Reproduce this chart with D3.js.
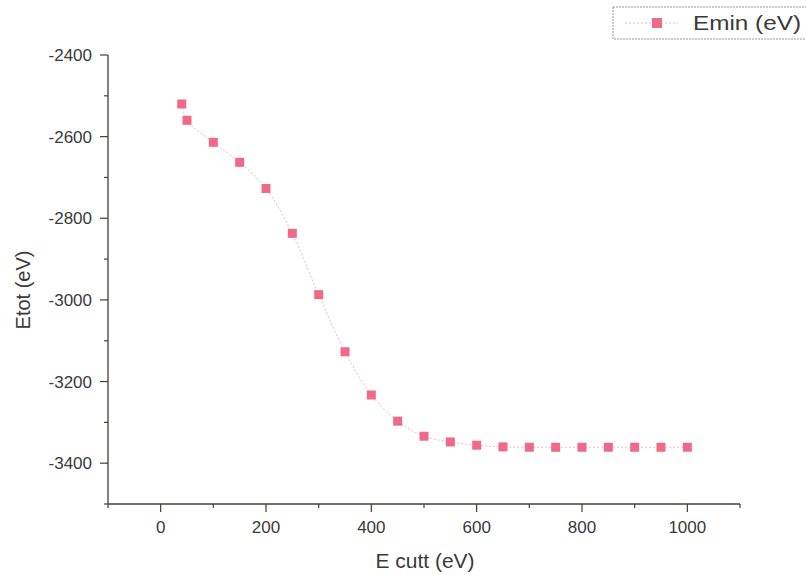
<!DOCTYPE html>
<html lang="en">
<head>
<meta charset="UTF-8">
<title>Etot vs E cutt</title>
<script src="https://cdn.jsdelivr.net/npm/d3@7"></script>
<style>
    body { margin: 0; background: #fff; }
    text { font-family: "Liberation Sans", Arial, sans-serif; fill: #3a3a3a; }
</style>
</head>
<body>
<svg id="chart" width="806" height="575"></svg>
<script>
    // data
    var ecut = [40, 50, 100, 150, 200, 250, 300, 350, 400, 450, 500, 550, 600, 650, 700, 750, 800, 850, 900, 950, 1000];
    var etot = [-2520, -2560, -2614, -2663, -2727, -2837, -2987, -3127, -3233, -3297, -3334, -3348, -3356, -3360, -3361, -3361, -3361, -3361, -3361, -3361, -3361];
    var xTicks = [0, 200, 400, 600, 800, 1000];
    var yTicks = [-2400, -2600, -2800, -3000, -3200, -3400];
    var seriesName = "Emin (eV)";

    var svg = d3.select("#chart");
    var plotLeft = 108, plotRight = 740, plotTop = 55, plotBottom = 504;
    var axisColor = "#4a3a3a";
    var markColor = "#f06a88";

    var x = d3.scaleLinear().domain([-100, 1100]).range([plotLeft, plotRight]);
    var y = d3.scaleLinear().domain([-3500, -2400]).range([plotBottom, plotTop]);

    // x axis
    var gx = svg.append("g").attr("transform", "translate(0," + plotBottom + ")");
    gx.append("line").attr("x1", plotLeft).attr("x2", plotRight).attr("stroke", axisColor).attr("stroke-width", 1.3);
    d3.range(-100, 1101, 100).forEach(function (v) {
        var major = v % 200 === 0;
        gx.append("line").attr("x1", x(v)).attr("x2", x(v))
            .attr("y1", 0).attr("y2", major ? 8 : 4)
            .attr("stroke", axisColor).attr("stroke-width", 1.2);
    });
    xTicks.forEach(function (v) {
        gx.append("text").attr("x", x(v)).attr("y", 29).attr("text-anchor", "middle")
            .attr("font-size", 17).text(v);
    });

    // y axis
    var gy = svg.append("g").attr("transform", "translate(" + plotLeft + ",0)");
    gy.append("line").attr("y1", plotTop).attr("y2", plotBottom).attr("stroke", axisColor).attr("stroke-width", 1.3);
    d3.range(-3500, -2399, 100).forEach(function (v) {
        var major = v % 200 === 0;
        gy.append("line").attr("y1", y(v)).attr("y2", y(v))
            .attr("x1", 0).attr("x2", major ? -8 : -4)
            .attr("stroke", axisColor).attr("stroke-width", 1.2);
    });
    yTicks.forEach(function (v) {
        gy.append("text").attr("x", -16).attr("y", y(v) + 6).attr("text-anchor", "end")
            .attr("font-size", 17).text(v);
    });

    // axis titles
    svg.append("text").attr("x", 425).attr("y", 568).attr("text-anchor", "middle")
        .attr("font-size", 21).text("E cutt (eV)");
    svg.append("text").attr("transform", "translate(30,290) rotate(-90)")
        .attr("text-anchor", "middle").attr("font-size", 20).text("Etot (eV)");

    // curve
    var pts = ecut.map(function (d, i) { return [d, etot[i]]; });
    var line = d3.line().x(function (d) { return x(d[0]); }).y(function (d) { return y(d[1]); })
        .curve(d3.curveCatmullRom);
    svg.append("path").datum(pts).attr("d", line).attr("fill", "none")
        .attr("stroke", "#f4b8c4").attr("stroke-width", 1).attr("stroke-dasharray", "2,2");

    svg.selectAll("rect.pt").data(pts).enter().append("rect").attr("class", "pt")
        .attr("x", function (d) { return x(d[0]) - 4.5; })
        .attr("y", function (d) { return y(d[1]) - 4.5; })
        .attr("width", 9).attr("height", 9)
        .attr("fill", markColor);

    // legend
    var lg = svg.append("g");
    lg.append("rect").attr("x", 613).attr("y", 7).attr("width", 200).attr("height", 32)
        .attr("fill", "#fff").attr("stroke", "#999").attr("stroke-width", 1).attr("stroke-dasharray", "2,1");
    lg.append("line").attr("x1", 625).attr("x2", 678).attr("y1", 23).attr("y2", 23)
        .attr("stroke", "#f4b8c4").attr("stroke-width", 1).attr("stroke-dasharray", "2,2");
    lg.append("rect").attr("x", 652).attr("y", 18).attr("width", 10).attr("height", 10).attr("fill", markColor);
    lg.append("text").attr("x", 693).attr("y", 30).attr("font-size", 21).attr("fill", "#222")
        .attr("textLength", 108).attr("lengthAdjust", "spacingAndGlyphs").text(seriesName);
</script>
</body>
</html>
